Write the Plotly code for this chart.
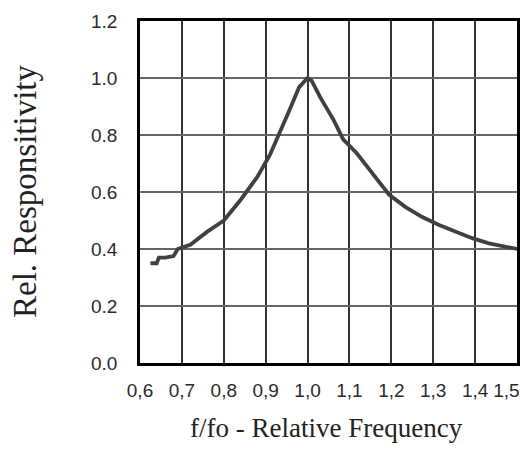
import plotly.graph_objects as go

# relative frequency f/fo and relative responsivity
freq = [0.625, 0.64, 0.645, 0.66, 0.68, 0.69, 0.70, 0.72, 0.76, 0.80, 0.84, 0.88,
        0.91, 0.93, 0.957, 0.98, 0.993, 1.0, 1.01, 1.03, 1.062, 1.085, 1.117, 1.155,
        1.195, 1.234, 1.274, 1.314, 1.353, 1.393, 1.433, 1.474, 1.5]
resp = [0.35, 0.35, 0.37, 0.37, 0.375, 0.40, 0.405, 0.415, 0.46, 0.50, 0.572, 0.653,
        0.73, 0.795, 0.888, 0.968, 0.99, 1.0, 0.99, 0.933, 0.853, 0.785, 0.737, 0.667,
        0.59, 0.547, 0.512, 0.484, 0.46, 0.438, 0.42, 0.407, 0.40]

x_ticks = [0.6, 0.7, 0.8, 0.9, 1.0, 1.1, 1.2, 1.3, 1.4, 1.5]
x_labels = ['0,6', '0,7', '0,8', '0,9', '1,0', '1,1', '1,2', '1,3', '1,4',
            '1,5&nbsp;&nbsp;&nbsp;&nbsp;']
y_ticks = [0.0, 0.2, 0.4, 0.6, 0.8, 1.0, 1.2]
y_labels = ['0.0', '0.2', '0.4', '0.6', '0.8', '1.0', '1.2']

fig = go.Figure()
fig.add_trace(go.Scatter(
    x=freq, y=resp, mode='lines',
    line=dict(color='#404040', width=3.8),
    hoverinfo='skip',
))

tick_font = dict(family='Liberation Sans, Arial, sans-serif', size=19, color='#2a2a2a')
serif = 'Liberation Serif, Times New Roman, serif'

# figure sized so the page (with the body's 8px margins) needs no scrollbar
W, H = 514, 439
L, R, T, B = 132, 5, 13, 84
plot_w = W - L - R
plot_h = H - T - B

fig.update_layout(
    width=W, height=H,
    margin=dict(l=L, r=R, t=T, b=B, autoexpand=False),
    plot_bgcolor='white', paper_bgcolor='white',
    showlegend=False,
    xaxis=dict(
        range=[0.6, 1.5], tickvals=x_ticks, ticktext=x_labels, automargin=False,
        showgrid=True, gridcolor='#333', gridwidth=1.5,
        zeroline=False, showline=True, linecolor='black', linewidth=2.5, mirror=True,
        ticks='outside', ticklen=8, tickcolor='rgba(0,0,0,0)', tickfont=tick_font,
        ticklabeloverflow='allow',
    ),
    yaxis=dict(
        range=[0, 1.2], tickvals=y_ticks, ticktext=y_labels, automargin=False,
        showgrid=True, gridcolor='#666', gridwidth=1.5,
        zeroline=False, showline=True, linecolor='black', linewidth=2.5, mirror=True,
        ticks='outside', ticklen=16, tickcolor='rgba(0,0,0,0)', tickfont=tick_font,
    ),
    annotations=[
        dict(text='Rel. Responsitivity', xref='paper', yref='paper',
             x=(17 - L) / plot_w, y=(H - B - 183) / plot_h,
             xanchor='center', yanchor='middle', showarrow=False, textangle=-90,
             font=dict(family=serif, size=33, color='#222')),
        dict(text='f/fo - Relative Frequency', xref='paper', yref='paper',
             x=(318 - L) / plot_w, y=(H - B - 420) / plot_h,
             xanchor='center', yanchor='middle', showarrow=False,
             font=dict(family=serif, size=27, color='#222')),
    ],
)

fig.write_html("out.html")
